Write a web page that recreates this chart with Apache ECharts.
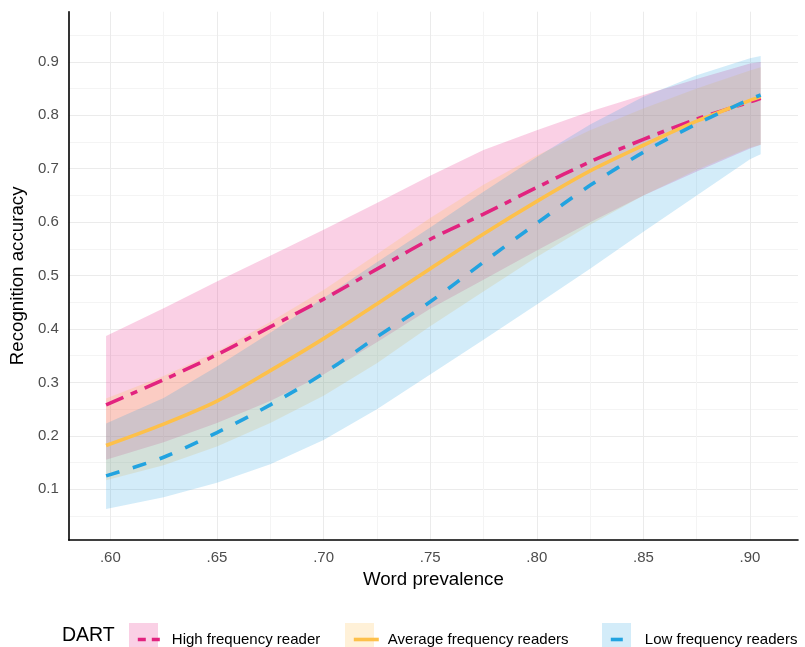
<!DOCTYPE html>
<html><head><meta charset="utf-8">
<script src="https://cdn.jsdelivr.net/npm/echarts@6/dist/echarts.min.js"></script>
<style>html,body{margin:0;padding:0;background:#fff}#c{width:805px;height:647px}</style>
</head><body><div id="c"></div>
<script>
// ---- data ----
const prevalence = [0.598, 0.625, 0.65, 0.675, 0.70, 0.725, 0.75, 0.775, 0.80, 0.825, 0.85, 0.875, 0.90, 0.905];

const highFit   = [0.258, 0.305, 0.352, 0.404, 0.456, 0.512, 0.568, 0.615, 0.665, 0.713, 0.755, 0.793, 0.825, 0.832];
const highUpper = [0.387, 0.439, 0.489, 0.537, 0.586, 0.636, 0.687, 0.735, 0.772, 0.807, 0.838, 0.868, 0.897, 0.900];
const highLower = [0.155, 0.188, 0.224, 0.265, 0.315, 0.375, 0.438, 0.492, 0.547, 0.600, 0.650, 0.695, 0.738, 0.745];

const avgFit    = [0.182, 0.222, 0.265, 0.322, 0.382, 0.447, 0.513, 0.578, 0.639, 0.696, 0.744, 0.789, 0.828, 0.835];
const avgUpper  = [0.270, 0.312, 0.358, 0.413, 0.473, 0.540, 0.608, 0.670, 0.725, 0.772, 0.813, 0.850, 0.884, 0.890];
const avgLower  = [0.117, 0.145, 0.180, 0.224, 0.275, 0.336, 0.405, 0.470, 0.535, 0.595, 0.650, 0.698, 0.740, 0.745];

const lowFit    = [0.125, 0.160, 0.206, 0.258, 0.317, 0.385, 0.451, 0.525, 0.598, 0.669, 0.731, 0.784, 0.830, 0.838];
const lowUpper  = [0.223, 0.271, 0.330, 0.393, 0.458, 0.525, 0.590, 0.657, 0.722, 0.783, 0.835, 0.875, 0.907, 0.911];
const lowLower  = [0.063, 0.085, 0.112, 0.147, 0.192, 0.250, 0.315, 0.380, 0.446, 0.513, 0.582, 0.650, 0.718, 0.727];

const groupNames = ['High frequency reader', 'Average frequency readers', 'Low frequency readers'];
const legendTitle = 'DART';
const xTitle = 'Word prevalence';
const yTitle = 'Recognition accuracy';

const xMajorTicks = [0.60, 0.65, 0.70, 0.75, 0.80, 0.85, 0.90];
const xGridTicks  = [0.60, 0.625, 0.65, 0.675, 0.70, 0.725, 0.75, 0.775, 0.80, 0.825, 0.85, 0.875, 0.90];
const yMajorTicks = [0.1, 0.2, 0.3, 0.4, 0.5, 0.6, 0.7, 0.8, 0.9];
const yGridTicks  = [0.05, 0.1, 0.15, 0.2, 0.25, 0.3, 0.35, 0.4, 0.45, 0.5, 0.55, 0.6, 0.65, 0.7, 0.75, 0.8, 0.85, 0.9, 0.95];

// ---- styling ----
const lineColors = ['#E2237F', '#FDC04A', '#22A3E0'];
const bandColors = ['rgba(231,41,138,0.22)', 'rgba(255,192,76,0.22)', 'rgba(34,160,225,0.20)'];
const dashes = [[19, 8, 7, 8], 'solid', [14, 14]];
const legendDashes = [[8, 6], 'solid', [12, 30]];
const FONT = 'Liberation Sans, Arial, sans-serif';

const fits = [highFit, avgFit, lowFit];
const uppers = [highUpper, avgUpper, lowUpper];
const lowers = [highLower, avgLower, lowLower];

function bandSeries(k) {
  const up = uppers[k], lo = lowers[k];
  return {
    type: 'custom', name: groupNames[k] + ' CI', silent: true, clip: true, z: 1,
    data: prevalence.map((x, i) => [x, lo[i], up[i]]),
    encode: { x: 0, y: [1, 2] },
    renderItem(params, api) {
      if (params.dataIndexInside !== 0) return null;
      const pts = [];
      for (let i = 0; i < prevalence.length; i++) pts.push(api.coord([prevalence[i], up[i]]));
      for (let i = prevalence.length - 1; i >= 0; i--) pts.push(api.coord([prevalence[i], lo[i]]));
      return { type: 'polygon', shape: { points: pts }, style: { fill: bandColors[k] } };
    }
  };
}
function lineSeries(k) {
  return {
    type: 'line', name: groupNames[k], z: 3, symbol: 'none', smooth: 0.3, silent: true,
    data: prevalence.map((x, i) => [x, fits[k][i]]),
    lineStyle: { color: lineColors[k], width: 3.6, type: dashes[k], cap: 'butt' },
    itemStyle: { color: lineColors[k] }
  };
}

const legendLeft = [131, 347, 604];
const legends = groupNames.map((n, k) => ({
  show: true, left: legendLeft[k], top: 627, orient: 'horizontal', z: 5,
  data: [{ name: n, itemStyle: { opacity: 0 } }], itemWidth: 25, itemHeight: 14, selectedMode: false,
  itemStyle: { opacity: 0 },
  lineStyle: { type: legendDashes[k], width: 3.6 },
  textStyle: { fontFamily: FONT, fontSize: 15, color: '#000', padding: [0, 0, 0, 4] }
}));

const chart = echarts.init(document.getElementById('c'), null, { renderer: 'canvas' });
chart.setOption({
  animation: false,
  backgroundColor: '#fff',
  grid: { left: 68.3, right: 7, top: 11.7, bottom: 107, containLabel: false },
  xAxis: {
    type: 'value', min: 0.5805, max: 0.9225,
    name: xTitle, nameLocation: 'middle', nameGap: 30,
    nameTextStyle: { fontFamily: FONT, fontSize: 18.7, color: '#000' },
    axisLine: { show: true, lineStyle: { color: '#000', width: 1.6 } },
    axisTick: { show: false, customValues: xGridTicks },
    axisLabel: { customValues: xMajorTicks, margin: 10, fontFamily: FONT, fontSize: 15, color: '#4D4D4D',
      formatter: v => v.toFixed(2).replace(/^0/, '') },
    splitLine: { show: true, lineStyle: { color: ['#EBEBEB', '#F4F4F4'], width: 1 } }
  },
  yAxis: {
    type: 'value', min: 0.005, max: 0.994,
    name: yTitle, nameLocation: 'middle', nameGap: 28, nameRotate: 90,
    nameTextStyle: { fontFamily: FONT, fontSize: 18.7, color: '#000' },
    axisLine: { show: true, lineStyle: { color: '#000', width: 1.6 } },
    axisTick: { show: false, customValues: yGridTicks },
    axisLabel: { customValues: yMajorTicks, margin: 10, fontFamily: FONT, fontSize: 15, color: '#4D4D4D',
      formatter: v => v.toFixed(1) },
    splitLine: { show: true, lineStyle: { color: ['#F4F4F4', '#EBEBEB'], width: 1 } }
  },
  legend: legends,
  graphic: [
    { type: 'text', left: 62, top: 626, z: 5, style: { text: legendTitle, font: '19.5px ' + FONT, fill: '#000' } },
    { type: 'rect', shape: { x: 129, y: 623, width: 29, height: 28 }, z: 0, style: { fill: bandColors[0] } },
    { type: 'rect', shape: { x: 345, y: 623, width: 29, height: 28 }, z: 0, style: { fill: bandColors[1] } },
    { type: 'rect', shape: { x: 602, y: 623, width: 29, height: 28 }, z: 0, style: { fill: bandColors[2] } }
  ],
  series: [bandSeries(0), bandSeries(1), bandSeries(2), lineSeries(0), lineSeries(1), lineSeries(2)]
});
</script></body></html>
